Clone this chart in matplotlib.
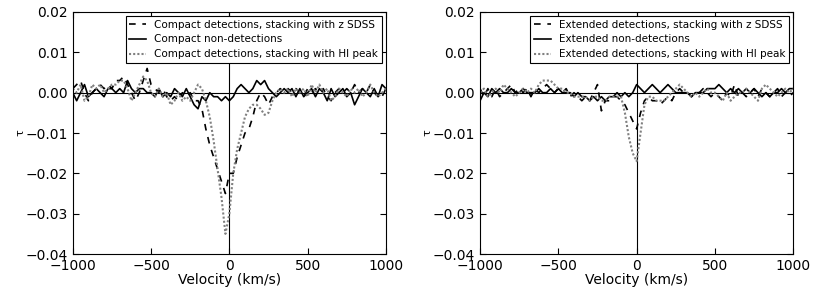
import numpy as np
import matplotlib
matplotlib.use("Agg")
import matplotlib.pyplot as plt

# velocity grid (km/s), 25 km/s channels
velocity = np.arange(-1000, 1001, 25)

# Compact sources
compact_zsdss = [0.001, 0.002, 0.003, 0.000, -0.002, 0.000, 0.001, 0.002, 0.001, 0.002,
                 0.001, 0.003, 0.003, 0.004, 0.002, 0.000, -0.002, 0.000, 0.003, 0.006,
                 0.002, 0.001, 0.000, 0.001, -0.001, -0.002, -0.001, -0.002, 0.000, -0.001,
                 0.000, -0.002, -0.002, -0.004, -0.009, -0.013, -0.016, -0.019, -0.022, -0.025,
                 -0.020, -0.020, -0.016, -0.013, -0.010, -0.009, -0.006, -0.002, 0.000, -0.001,
                 -0.003, -0.001, 0.000, 0.001, 0.000, 0.001, 0.000, 0.001, 0.000, -0.001,
                 0.001, 0.000, 0.001, 0.000, 0.001, -0.001, -0.002, 0.000, 0.001, 0.000,
                 0.001, 0.000, 0.002, 0.000, 0.001, 0.000, 0.002, 0.000, -0.001, -0.001,
                 0.001]
compact_nondet = [0.000, -0.002, 0.000, 0.002, -0.001, 0.000, 0.001, 0.000, -0.001, 0.001,
                  0.001, 0.000, 0.001, 0.000, 0.003, 0.001, 0.000, 0.001, 0.001, 0.000,
                  0.000, -0.001, 0.001, -0.001, 0.000, -0.001, 0.001, 0.000, -0.001, 0.001,
                  -0.001, -0.003, -0.004, -0.001, -0.002, 0.000, -0.001, -0.001, -0.002, -0.001,
                  -0.002, -0.001, 0.001, 0.002, 0.001, 0.000, 0.001, 0.003, 0.002, 0.003,
                  0.001, 0.000, -0.001, 0.000, 0.001, 0.000, 0.001, -0.001, 0.001, -0.001,
                  0.000, 0.001, -0.001, 0.001, 0.000, -0.002, 0.001, -0.001, 0.000, 0.001,
                  -0.001, 0.000, -0.003, -0.001, 0.001, 0.000, -0.001, 0.001, -0.001, 0.002,
                  0.001]
compact_hipeak = [0.001, 0.000, 0.002, -0.002, -0.001, 0.002, 0.001, 0.002, 0.000, 0.001,
                  0.002, 0.002, 0.003, 0.003, 0.001, -0.002, 0.000, 0.002, 0.004, 0.003,
                  0.000, -0.001, 0.001, -0.001, 0.000, -0.003, -0.002, 0.000, -0.002, -0.001,
                  -0.002, 0.000, 0.002, 0.001, -0.002, -0.006, -0.012, -0.019, -0.026, -0.035,
                  -0.030, -0.020, -0.014, -0.010, -0.006, -0.004, -0.003, -0.003, -0.004, -0.0055,
                  -0.005, -0.002, 0.000, 0.001, 0.000, 0.001, -0.001, 0.001, 0.000, 0.001,
                  -0.001, 0.002, 0.000, 0.002, 0.000, 0.001, -0.002, -0.001, 0.001, 0.000,
                  -0.001, 0.001, 0.000, 0.001, -0.001, 0.000, 0.002, 0.000, -0.001, 0.000,
                  0.001]

# Extended sources
extended_zsdss = [0.001, -0.001, 0.001, -0.001, 0.001, -0.001, 0.000, 0.001, 0.002, 0.000,
                  0.001, 0.000, 0.001, -0.001, 0.001, 0.000, 0.001, 0.002, 0.001, 0.000,
                  0.001, 0.000, 0.001, -0.001, 0.000, -0.001, -0.002, -0.001, -0.002, 0.000,
                  0.002, -0.0045, -0.002, -0.002, -0.001, -0.001, -0.002, -0.003, -0.005, -0.007,
                  -0.009, -0.005, -0.002, -0.001, -0.002, -0.002, -0.003, -0.002, -0.001, -0.002,
                  0.000, 0.001, 0.000, 0.000, -0.001, 0.000, 0.000, 0.001, 0.000, -0.001,
                  0.000, -0.001, -0.002, 0.000, -0.001, 0.002, -0.001, 0.000, -0.001, 0.000,
                  0.001, -0.001, 0.001, 0.000, -0.001, 0.000, 0.001, -0.001, 0.000, -0.001,
                  0.000]
extended_nondet = [-0.002, 0.000, -0.001, 0.001, 0.000, 0.001, 0.000, 0.000, 0.001, 0.000,
                   0.000, 0.001, 0.000, 0.000, 0.000, 0.001, 0.000, 0.000, 0.001, 0.000,
                   0.001, 0.000, 0.000, 0.000, -0.001, 0.000, -0.001, -0.001, -0.002, -0.001,
                   -0.002, -0.001, -0.002, -0.001, -0.001, 0.000, -0.001, 0.000, -0.001, 0.000,
                   0.002, 0.001, 0.000, 0.001, 0.002, 0.001, 0.000, 0.001, 0.002, 0.001,
                   0.000, 0.000, 0.000, 0.000, -0.001, 0.000, 0.000, 0.000, 0.001, 0.001,
                   0.001, 0.002, 0.001, 0.000, 0.001, 0.000, 0.001, 0.000, 0.001, 0.000,
                   0.001, 0.000, -0.001, 0.000, -0.001, 0.000, 0.000, 0.001, 0.000, 0.001,
                   0.001]
extended_hipeak = [0.000, 0.001, -0.001, 0.000, 0.001, 0.000, 0.002, 0.001, 0.000, -0.001,
                   0.000, 0.001, 0.000, 0.001, 0.000, 0.002, 0.003, 0.003, 0.003, 0.002,
                   0.001, 0.001, 0.000, 0.000, -0.001, -0.001, -0.001, -0.001, -0.002, -0.001,
                   -0.001, -0.002, -0.002, -0.001, -0.001, -0.001, -0.001, -0.005, -0.011, -0.015,
                   -0.017, -0.010, -0.003, -0.001, -0.001, -0.002, -0.002, -0.002, -0.001, 0.000,
                   0.001, 0.002, 0.001, 0.000, -0.001, 0.000, -0.001, 0.000, 0.001, 0.000,
                   0.000, -0.001, -0.002, 0.000, -0.002, -0.001, 0.000, 0.000, 0.001, 0.000,
                   -0.001, -0.002, 0.001, 0.002, 0.001, 0.000, -0.001, 0.000, 0.001, 0.000,
                   0.001]

panels = [
    ("Compact", compact_zsdss, compact_nondet, compact_hipeak),
    ("Extended", extended_zsdss, extended_nondet, extended_hipeak),
]

fig = plt.figure(figsize=(8.22, 2.92), dpi=100)
lefts = [0.0885, 0.584]

for left, (name, zs, nd, hp) in zip(lefts, panels):
    ax = fig.add_axes([left, 0.130, 0.381, 0.829])
    ax.axhline(0, color="black", lw=0.8)
    ax.axvline(0, color="black", lw=0.8)
    ax.plot(velocity, zs, color="black", ls=(0, (4, 4)), lw=1.2,
            label=f"{name} detections, stacking with z SDSS")
    ax.plot(velocity, nd, color="black", ls="-", lw=1.2,
            label=f"{name} non-detections")
    ax.plot(velocity, hp, color="#808080", ls=(0, (1, 1)), lw=1.5,
            label=f"{name} detections, stacking with HI peak")
    ax.set_xlim(-1000, 1000)
    ax.set_ylim(-0.04, 0.02)
    ax.set_xticks([-1000, -500, 0, 500, 1000])
    ax.set_yticks([-0.04, -0.03, -0.02, -0.01, 0.0, 0.01, 0.02])
    ax.set_yticklabels(["\u22120.04", "\u22120.03", "\u22120.02", "\u22120.01", "0.00", "0.01", "0.02"])
    ax.tick_params(direction="in", labelsize=10, length=4)
    ax.tick_params(top=True, right=True)
    ax.set_xlabel("Velocity (km/s)", fontsize=10, labelpad=0)
    ax.set_ylabel("\u03c4", fontsize=8, labelpad=0)
    leg = ax.legend(loc="upper right", fontsize=7.5, fancybox=False, framealpha=1,
                    edgecolor="black", handlelength=1.6, borderaxespad=0.4,
                    labelspacing=0.45, borderpad=0.35)
    leg.get_frame().set_linewidth(0.8)

fig.savefig("out.png", dpi=100)
